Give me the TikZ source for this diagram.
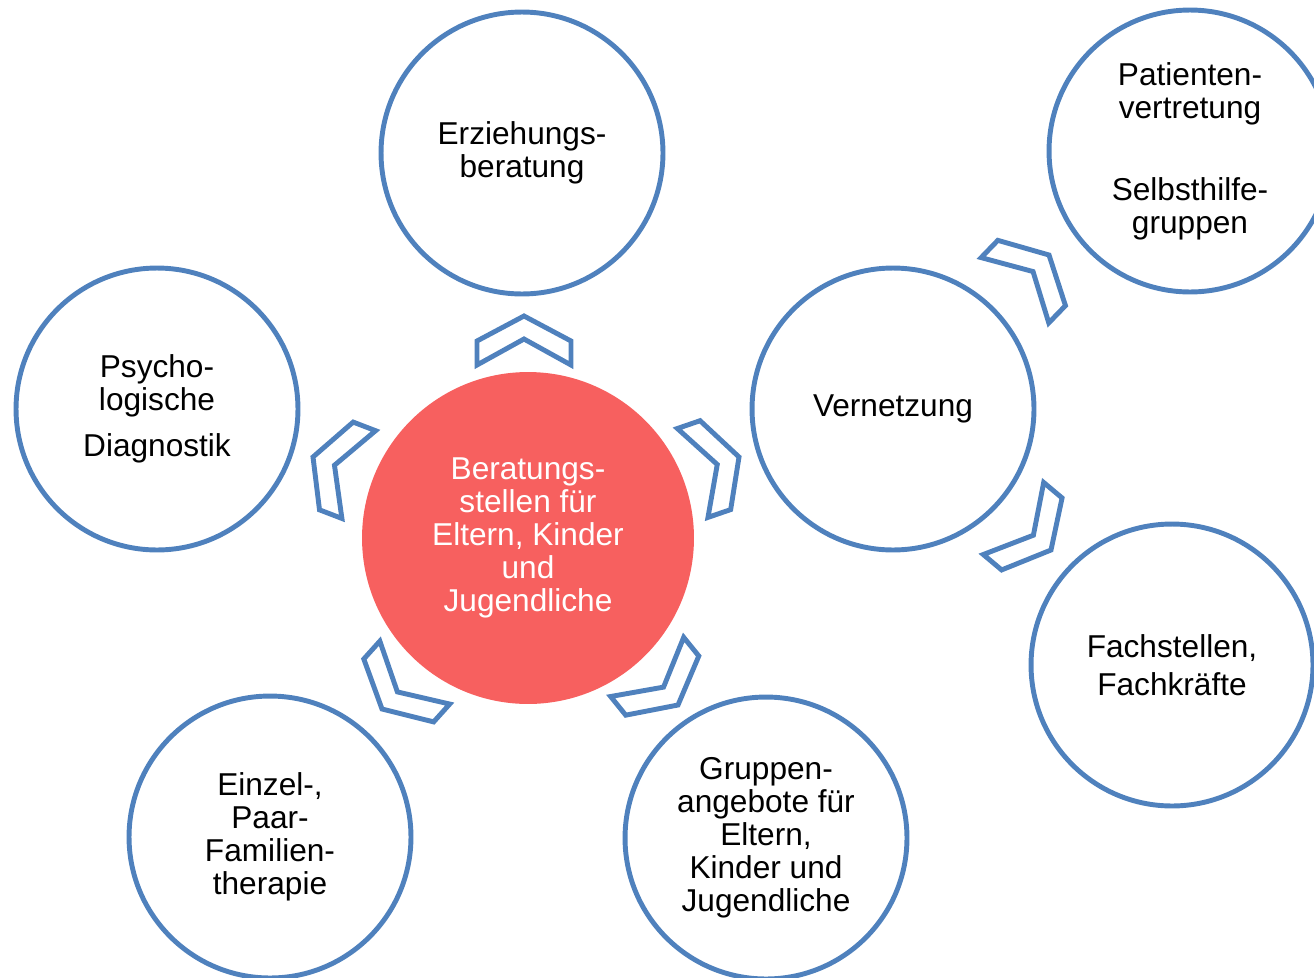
\documentclass[tikz,border=0pt]{standalone}
\usepackage{fontspec}
\setmainfont{Liberation Sans}
\definecolor{ringblue}{HTML}{4F81BD}
\definecolor{hubred}{HTML}{F7605F}
\tikzset{
  ring/.style={circle, draw=ringblue, line width=2.8pt, minimum size=5.64cm, inner sep=0pt, align=center, font=\fontsize{18}{18.8}\selectfont},
  hub/.style={circle, fill=hubred, minimum size=6.64cm, inner sep=0pt, align=center, text=white, font=\fontsize{18}{18.8}\selectfont},
  chev/.style={draw=ringblue, line width=2.8pt, line join=miter},
  chevron/.pic={\draw[chev] (0,0)--(-25,47)--(-49,47)--(-23,0)--(-49,-47)--(-25,-47)--cycle;}
}
\begin{document}
\begin{tikzpicture}[x=0.02cm, y=-0.02cm]
\clip (0,0) rectangle (1314,977);
\node[hub] (hub) at (528,538) {Beratungs-\\stellen für\\Eltern, Kinder\\und\\Jugendliche};
\node[ring] (erz) at (522,153) {Erziehungs-\\beratung};
\node[ring] (psy) at (157,409) {Psycho-\\logische\\[0.26cm]Diagnostik};
\node[ring] (ver) at (893,409) {Vernetzung};
\node[ring] (pat) at (1190,151) {Patienten-\\vertretung\\[0.98cm]Selbsthilfe-\\gruppen};
\node[ring] (fach) at (1172,665) {Fachstellen,\\[0.1cm]Fachkräfte};
\node[ring] (einzel) at (270,837) {Einzel-,\\Paar-\\Familien-\\therapie};
\node[ring] (grup) at (766,838) {Gruppen-\\angebote für\\Eltern,\\Kinder und\\Jugendliche};
% chevrons: tip x / tip y / direction
\foreach \x/\y/\a in {524/316/90, 313/457/159, 739/457/19, 382/709/228, 678/705/309, 1049/255/46, 1051/550/-40}
  \pic[rotate=\a] at (\x,\y) {chevron};
\end{tikzpicture}
\end{document}
